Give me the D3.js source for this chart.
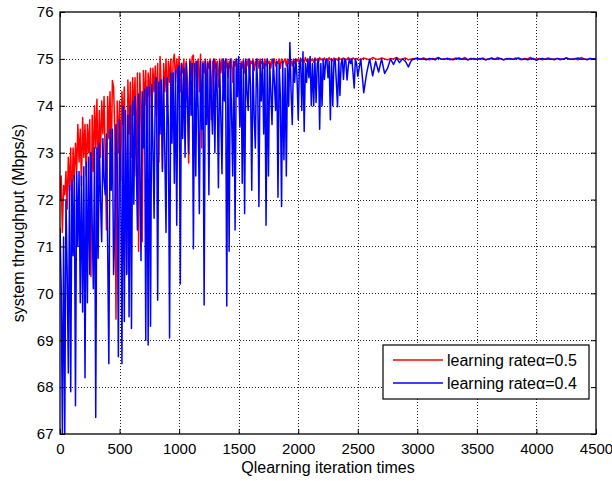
<!DOCTYPE html>
<html><head><meta charset="utf-8">
<script src="https://cdn.jsdelivr.net/npm/d3@7"></script>
<style>body{margin:0;background:#fff}svg{display:block}</style>
</head><body><svg id="c" width="612" height="481"></svg>
<script>
const xTicks = [0,500,1000,1500,2000,2500,3000,3500,4000,4500];
const yTicks = [67,68,69,70,71,72,73,74,75,76];
const seriesNames = ["learning rate\u03b1=0.5","learning rate\u03b1=0.4"];
const earlyStep = 10;   // iterations 0..2490
const lateStart = 2500, lateStep = 25; // iterations 2500..4500

const redEarly = [
72.0,72.5,71.3,72.3,72.1,72.6,71.8,72.9,72.2,73.1,
71.7,73.1,72.4,73.2,72.6,73.6,72.8,73.5,72.3,73.75,
72.9,73.6,72.5,73.6,73.0,73.7,70.36,73.8,72.6,74.0,
73.1,74.14,72.4,73.9,72.9,74.1,73.4,74.2,72.8,71.35,
74.2,73.3,74.3,72.8,74.54,74.4,73.5,69.45,74.1,73.0,
74.1,72.4,74.3,73.6,74.4,72.7,70.43,74.55,73.4,74.5,
72.9,74.6,73.8,74.6,72.5,74.7,70.9,74.7,73.9,71.1,
74.75,74.0,74.75,73.2,74.7,74.2,74.8,73.5,74.8,74.3,
74.85,73.8,74.9,72.8,75.05,74.4,72.65,74.9,74.3,75.0,
73.9,74.95,74.5,75.0,74.1,74.95,75.1,74.5,75.0,74.6,
75.05,74.3,74.9,74.7,75.0,74.2,74.95,74.5,72.78,75.0,
74.6,75.05,75.08,74.4,74.95,74.6,75.0,74.3,75.1,73.1,
74.95,74.7,75.0,74.5,74.95,74.8,75.0,73.7,74.95,74.6,
75.0,74.8,74.95,74.4,75.0,74.7,75.0,74.5,74.95,74.8,
75.0,74.6,74.95,74.8,75.0,74.5,74.95,74.85,75.0,74.7,
75.0,73.55,74.95,74.8,75.0,74.7,74.95,74.85,75.0,74.7,
74.95,74.9,75.0,74.75,74.95,74.85,75.0,74.8,75.0,74.9,
74.95,74.8,75.0,74.85,75.0,74.9,74.95,74.8,75.0,74.9,
75.0,74.85,74.95,74.9,75.0,74.8,75.0,74.9,74.95,75.0,
74.85,75.0,74.9,75.0,74.95,74.85,75.0,74.9,75.0,74.95,
75.0,74.9,75.02,74.95,75.0,74.92,75.03,74.95,75.0,74.9,
75.02,74.96,75.0,74.93,75.02,74.97,75.0,74.94,75.03,74.98,
75.0,74.95,75.02,74.97,75.0,74.96,75.03,74.98,75.0,74.96,
75.02,74.98,75.0,74.97,75.03,74.99,75.0,74.97,75.02,74.99,
75.0,74.98,75.03,74.99,75.0,74.98,75.02,75.0,74.99,75.01
];
const redLate = [
75.0,74.98,75.02,75.0,74.98,75.03,75.0,74.99,75.02,75.0,
74.98,75.01,75.0,75.03,74.99,75.0,75.02,74.98,75.0,75.01,
75.0,74.99,75.02,75.0,74.98,75.01,75.0,75.03,74.99,75.0,
75.01,74.98,75.0,75.02,74.99,75.0,75.03,74.98,75.0,75.01,
74.99,75.0,75.02,74.98,75.0,75.01,74.99,75.03,75.0,74.98,
75.01,75.0,74.99,75.02,75.0,74.98,75.01,75.0,75.03,74.99,
75.0,75.01,74.98,75.0,75.02,74.99,75.0,75.01,74.98,75.0,
75.02,74.99,75.0,75.01,74.98,75.03,75.0,74.99,75.01,75.0,75.0
];
const blueEarly = [
71.4,70.2,67.0,71.2,67.0,72.0,70.5,68.3,72.3,67.9,
72.4,70.8,72.5,67.6,72.6,71.0,72.6,69.8,72.5,69.6,
72.7,68.2,72.8,69.8,72.9,70.4,73.0,71.5,70.1,73.1,
67.35,73.1,70.75,73.2,72.0,71.1,73.3,72.4,72.1,73.4,
71.0,68.5,73.5,72.2,73.5,70.4,71.4,73.6,72.8,68.65,
73.7,72.6,68.5,74.0,69.4,73.9,70.4,73.8,69.5,74.0,
69.25,74.1,71.9,74.2,72.9,71.35,74.25,72.8,70.7,74.3,
73.1,74.35,69.0,74.4,68.9,74.4,69.3,74.45,73.2,71.6,
74.5,74.6,69.85,74.5,73.4,74.55,72.6,74.6,73.0,71.3,
74.6,73.6,69.05,74.7,73.2,74.7,72.35,74.75,71.45,74.8,
74.85,70.2,74.9,73.3,74.8,72.9,74.9,74.1,73.0,74.95,
73.8,74.9,70.95,74.9,72.5,74.95,73.9,71.7,74.95,73.5,
74.9,69.75,74.95,73.6,74.9,72.1,74.95,74.2,73.4,75.0,
73.0,74.9,74.3,72.25,74.95,73.8,72.55,75.0,74.1,75.0,
69.73,74.9,70.9,75.0,73.9,72.5,74.95,71.35,75.0,74.2,
75.05,73.55,74.9,72.35,74.95,71.7,75.0,74.3,73.9,75.0,
74.4,72.2,74.95,73.8,73.1,75.0,74.4,71.85,74.95,74.1,
75.0,73.4,74.9,71.45,75.0,72.5,74.9,74.3,73.6,75.0,
74.5,73.9,74.95,72.05,74.9,74.2,71.85,74.95,72.85,74.8,
72.5,74.9,74.0,75.35,74.3,73.6,74.95,74.5,75.0,74.6,
73.7,74.9,75.0,73.9,75.15,73.45,74.9,74.5,75.0,74.6,
75.05,74.0,74.9,74.0,75.0,74.07,74.9,75.0,73.5,74.9,
74.0,75.0,74.56,74.95,75.0,74.6,74.95,73.7,75.0,74.0,
74.95,75.0,74.5,73.98,75.0,74.22,74.9,75.0,74.56,75.0,
74.95,74.55,74.84,75.0,74.9,75.0,74.7,74.38,75.0,74.9
];
const blueLate = [
74.63,75.0,74.28,74.7,75.0,74.64,74.95,74.72,75.0,74.69,
74.8,75.0,74.88,75.02,74.92,75.0,74.95,74.83,74.97,75.0,
75.02,74.99,75.0,74.98,75.01,75.0,74.98,75.02,75.0,74.99,
75.01,75.0,74.98,75.0,75.02,74.99,75.0,74.98,75.01,75.0,
74.99,75.01,75.0,74.98,75.0,75.02,74.99,75.0,75.01,74.98,
75.0,75.01,74.99,75.0,75.02,74.99,75.0,74.98,75.0,75.01,
74.97,75.0,75.01,74.99,75.0,75.0,74.98,75.01,75.0,74.99,
75.02,75.0,74.99,75.0,75.02,74.99,75.0,74.98,75.01,75.0,75.0
];

function toPoints(early, late){
  const pts = early.map((v,i)=>({it:i*earlyStep, v}));
  late.forEach((v,i)=>{ const it = lateStart + i*lateStep; if(it<=4500) pts.push({it, v}); });
  return pts;
}
const redPts = toPoints(redEarly, redLate);
const bluePts = toPoints(blueEarly, blueLate);

const svg = d3.select("#c");
const L=60, R=596, T=12, B=434;
const x = d3.scaleLinear().domain([0,4500]).range([L,R]);
const y = d3.scaleLinear().domain([67,76]).range([B,T]);
const font = "'Liberation Sans', Arial, Helvetica, sans-serif";

svg.append("rect").attr("x",0).attr("y",0).attr("width",612).attr("height",481).attr("fill","#fff");

// grid
const grid = svg.append("g").attr("stroke","#222").attr("stroke-width",1).attr("stroke-dasharray","1,2");
grid.selectAll("line.v").data(xTicks.filter(d=>d>0&&d<4500)).join("line")
  .attr("x1",d=>Math.round(x(d))+0.5).attr("x2",d=>Math.round(x(d))+0.5).attr("y1",T).attr("y2",B);
grid.selectAll("line.h").data(yTicks.filter(d=>d>67&&d<76)).join("line")
  .attr("y1",d=>Math.round(y(d))+0.5).attr("y2",d=>Math.round(y(d))+0.5).attr("x1",L).attr("x2",R);

// lines
svg.append("clipPath").attr("id","clip").append("rect").attr("x",L).attr("y",T).attr("width",R-L).attr("height",B-T);
const line = d3.line().x(d=>x(d.it)).y(d=>y(d.v));
const plot = svg.append("g").attr("clip-path","url(#clip)");
plot.append("path").datum(redPts).attr("d",line).attr("fill","none").attr("stroke","#ff0000").attr("stroke-width",1.5).attr("stroke-linejoin","round");
plot.append("path").datum(bluePts).attr("d",line).attr("fill","none").attr("stroke","#0000ff").attr("stroke-width",1.5).attr("stroke-linejoin","round");

// axes
function styleAxis(g){
  g.select(".domain").remove();
  g.selectAll(".tick line").attr("stroke","#000");
  g.selectAll("text").attr("font-family",font).attr("font-size",15).attr("fill","#000");
}
svg.append("g").attr("transform",`translate(0,${B})`)
  .call(d3.axisBottom(x).tickValues(xTicks).tickFormat(d3.format("d")).tickSizeInner(-5).tickSizeOuter(0).tickPadding(9)).call(styleAxis);
svg.append("g").attr("transform",`translate(0,${T})`)
  .call(d3.axisTop(x).tickValues(xTicks).tickFormat("").tickSizeInner(-5).tickSizeOuter(0)).call(styleAxis);
svg.append("g").attr("transform",`translate(${L},0)`)
  .call(d3.axisLeft(y).tickValues(yTicks).tickFormat(d3.format("d")).tickSizeInner(-5).tickSizeOuter(0).tickPadding(6.5)).call(styleAxis);
svg.append("g").attr("transform",`translate(${R},0)`)
  .call(d3.axisRight(y).tickValues(yTicks).tickFormat("").tickSizeInner(-5).tickSizeOuter(0)).call(styleAxis);

svg.append("rect").attr("x",L).attr("y",T).attr("width",R-L).attr("height",B-T).attr("fill","none").attr("stroke","#000").attr("stroke-width",1.3);

// titles
svg.append("text").attr("x",(L+R)/2).attr("y",473).attr("text-anchor","middle")
  .attr("font-family",font).attr("font-size",16).text("Qlearning iteration times");
svg.append("text").attr("transform",`translate(24,${(T+B)/2}) rotate(-90)`).attr("text-anchor","middle")
  .attr("font-family",font).attr("font-size",16).text("system throughput (Mbps/s)");

// legend
const lg = svg.append("g");
lg.append("rect").attr("x",383).attr("y",345).attr("width",206).attr("height",54).attr("fill","#fff").attr("stroke","#000").attr("stroke-width",1.2);
const colors = ["#ff0000","#0000ff"];
seriesNames.forEach((n,i)=>{
  const yy = 360 + i*23;
  lg.append("line").attr("x1",393).attr("x2",443).attr("y1",yy).attr("y2",yy).attr("stroke",colors[i]).attr("stroke-width",1.3);
  lg.append("text").attr("x",447).attr("y",yy+6).attr("font-family",font).attr("font-size",16).text(n);
});
</script></body></html>
